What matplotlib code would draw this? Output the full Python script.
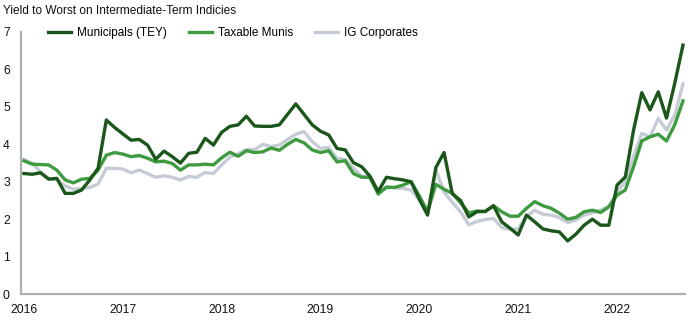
import numpy as np
import matplotlib
matplotlib.use("Agg")
import matplotlib.pyplot as plt

plt.rcParams['font.family'] = ['Liberation Sans Narrow', 'Liberation Sans', 'DejaVu Sans']

# monthly values, Jan 2016 - Sep 2022
municipals = [
    3.22, 3.20, 3.24, 3.07, 3.09, 2.69, 2.69, 2.78, 3.05, 3.36, 4.65, 4.45,
    4.28, 4.11, 4.13, 3.98, 3.60, 3.82, 3.67, 3.50, 3.76, 3.79, 4.16, 3.98,
    4.32, 4.48, 4.52, 4.75, 4.49, 4.48, 4.48, 4.52, 4.80, 5.08, 4.80, 4.52,
    4.35, 4.25, 3.89, 3.85, 3.51, 3.40, 3.15, 2.74, 3.12, 3.08, 3.05, 3.00,
    2.53, 2.11, 3.38, 3.78, 2.68, 2.50, 2.06, 2.20, 2.21, 2.36, 1.93, 1.76,
    1.58, 2.11, 1.93, 1.74, 1.69, 1.66, 1.42, 1.60, 1.84, 2.00, 1.84, 1.84,
    2.91, 3.13, 4.38, 5.38, 4.92, 5.40, 4.70, 5.63, 6.65]
taxable = [
    3.56, 3.47, 3.46, 3.45, 3.31, 3.05, 2.97, 3.07, 3.09, 3.31, 3.71, 3.78,
    3.74, 3.67, 3.70, 3.63, 3.53, 3.55, 3.49, 3.31, 3.45, 3.45, 3.47, 3.45,
    3.64, 3.79, 3.68, 3.83, 3.78, 3.80, 3.90, 3.84, 4.00, 4.13, 4.04, 3.85,
    3.78, 3.83, 3.53, 3.56, 3.22, 3.12, 3.12, 2.67, 2.85, 2.85, 2.91, 3.00,
    2.62, 2.20, 2.93, 2.80, 2.69, 2.44, 2.17, 2.22, 2.20, 2.36, 2.20, 2.08,
    2.08, 2.29, 2.47, 2.36, 2.29, 2.16, 2.00, 2.05, 2.20, 2.24, 2.18, 2.33,
    2.64, 2.78, 3.40, 4.09, 4.20, 4.27, 4.09, 4.52, 5.16]
ig_corp = [
    3.60, 3.49, 3.27, 3.09, 3.05, 2.89, 2.80, 2.82, 2.85, 2.94, 3.36, 3.36,
    3.34, 3.24, 3.31, 3.22, 3.12, 3.16, 3.12, 3.05, 3.14, 3.12, 3.25, 3.22,
    3.45, 3.66, 3.75, 3.86, 3.86, 4.00, 3.94, 3.98, 4.13, 4.27, 4.34, 4.07,
    3.89, 3.92, 3.62, 3.60, 3.36, 3.15, 3.12, 2.73, 2.87, 2.84, 2.82, 2.78,
    2.51, 2.15, 3.33, 2.72, 2.45, 2.20, 1.85, 1.94, 1.99, 2.02, 1.78, 1.73,
    1.74, 2.07, 2.24, 2.13, 2.11, 2.04, 1.91, 1.98, 2.11, 2.17, 2.24, 2.35,
    2.73, 3.00, 3.67, 4.29, 4.20, 4.69, 4.38, 4.78, 5.61]
years = ['2016', '2017', '2018', '2019', '2020', '2021', '2022']

months = np.arange(len(municipals))

fig = plt.figure(figsize=(6.9, 3.2), dpi=100)
ax = fig.add_axes((0.0304, 0.081, 0.963, 0.819))

ax.plot(months, ig_corp, color='#c5ccd6', lw=2.4, label='IG Corporates', zorder=2)
ax.plot(months, taxable, color='#3f9b3f', lw=2.4, label='Taxable Munis', zorder=3)
ax.plot(months, municipals, color='#1b571b', lw=2.4, label='Municipals (TEY)', zorder=4)

ax.set_xlim(-0.36, 80.3)
ax.set_ylim(0, 7)
ax.set_xticks(np.arange(len(years)) * 12)
ax.set_xticklabels(years)
ax.set_yticks(range(8))
ax.tick_params(length=0, labelsize=8.8, colors='#111111')
ax.tick_params(axis='y', pad=8)
ax.tick_params(axis='x', pad=7)

for s in ['top', 'right']:
    ax.spines[s].set_visible(False)
for s in ['left', 'bottom']:
    ax.spines[s].set_color('#b0b0b0')
    ax.spines[s].set_linewidth(1.6)

handles, labels = ax.get_legend_handles_labels()
order = [2, 1, 0]
ax.legend([handles[i] for i in order], [labels[i] for i in order],
          loc='upper left', bbox_to_anchor=(0.025, 1.06), ncol=3, frameon=False,
          fontsize=8.5, handlelength=1.95, columnspacing=1.85, handletextpad=0.5)

fig.text(0.004, 0.985, 'Yield to Worst on Intermediate-Term Indicies',
         fontsize=8.6, va='top', ha='left', color='#111111')

fig.savefig('out.png', dpi=100)
